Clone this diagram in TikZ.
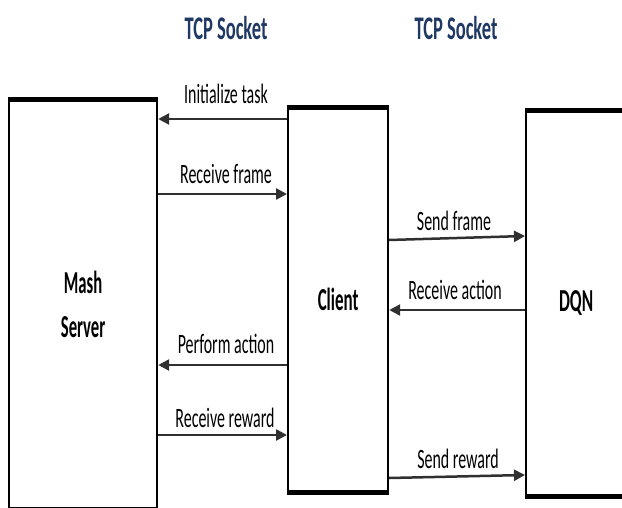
\documentclass[tikz,border=0pt]{standalone}
\usepackage{fontspec}
\usepackage{graphicx}
\setmainfont{Carlito}
\usetikzlibrary{arrows.meta}
\definecolor{socketblue}{HTML}{1F3864}
\definecolor{wire}{HTML}{303030}
% condensed lettering
\newcommand{\narrow}[2][0.57]{\scalebox{#1}[1]{#2}}
\begin{document}
\begin{tikzpicture}[x=1pt,y=-1pt,
  unit/.style={draw=black, line width=2.2pt, anchor=north west, inner sep=0pt,
    align=center, font=\fontsize{32}{44}\selectfont\bfseries},
  rim/.style={draw=black, line width=5pt},
  msg/.style={draw=wire, line width=2.5pt, -{Triangle[length=11pt,width=11pt]}},
  msglabel/.style={anchor=base, inner sep=0pt, font=\fontsize{28}{30}\selectfont},
  sockhead/.style={anchor=base, inner sep=0pt, text=socketblue,
    font=\fontsize{33}{36}\selectfont\bfseries}]

\clip (0,0) rectangle (622,508);
\fill[white] (0,0) rectangle (622,508);

% socket headings
\node[sockhead] (tcpa) at (226,40) {\narrow[0.56]{TCP Socket}};
\node[sockhead] (tcpb) at (456,40) {\narrow[0.56]{TCP Socket}};

% the three parties
\node[unit, minimum width=148pt, minimum height=407pt] (ms) at (8,99.5)
  {\narrow[0.52]{Mash}\\\narrow[0.52]{Server}};
\node[unit, minimum width=100pt, minimum height=382.5pt] (cl) at (287,107.5)
  {\narrow[0.53]{Client}};
\node[unit, minimum width=100pt, minimum height=383.5pt] (dqn) at (525,110.5)
  {\narrow[0.54]{DQN}};

% heavy top and bottom edges
\draw[rim] (ms.north west) -- (ms.north east);
\draw[rim] (cl.north west) -- (cl.north east);
\draw[rim] (cl.south west) -- (cl.south east);
\draw[rim] (dqn.north west) -- (dqn.north east);
\draw[rim] (dqn.south west) -- (dqn.south east);

% messages between server and client
\draw[msg] (cl.west |- 0,119) -- (ms.east |- 0,119);
\draw[msg] (ms.east |- 0,194) -- (cl.west |- 0,194);
\draw[msg] (cl.west |- 0,365) -- (ms.east |- 0,365);
\draw[msg] (ms.east |- 0,435) -- (cl.west |- 0,435);

% messages between client and DQN
\draw[msg] (cl.east |- 0,240) -- (dqn.west |- 0,236);
\draw[msg] (dqn.west |- 0,310) -- (cl.east |- 0,310);
\draw[msg] (cl.east |- 0,478) -- (dqn.west |- 0,475);

% message labels
\node[msglabel] (l1) at (226,104) {\narrow{Initialize task}};
\node[msglabel] (l2) at (226,184) {\narrow{Receive frame}};
\node[msglabel] (l3) at (226,353) {\narrow{Perform action}};
\node[msglabel] (l4) at (225,427) {\narrow{Receive reward}};
\node[msglabel] (l5) at (454,231) {\narrow{Send frame}};
\node[msglabel] (l6) at (455,300) {\narrow{Receive action}};
\node[msglabel] (l7) at (458,468) {\narrow{Send reward}};
\end{tikzpicture}
\end{document}
